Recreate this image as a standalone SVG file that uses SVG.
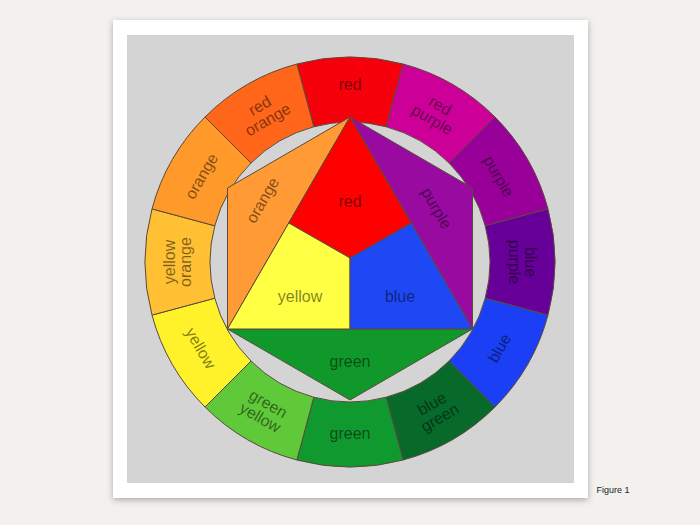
<svg xmlns="http://www.w3.org/2000/svg" width="700" height="525" viewBox="0 0 700 525">
<defs>
<filter id="sh" x="-10%" y="-10%" width="120%" height="120%"><feDropShadow dx="0" dy="2" stdDeviation="3" flood-opacity="0.3"/></filter>
<style>
.s{stroke:#5a4a3a;stroke-width:1;stroke-linejoin:round}
text{font-family:"Liberation Sans",Arial,sans-serif;font-size:16px;fill:#000;fill-opacity:0.5;text-anchor:middle}
</style>
</defs>
<rect width="700" height="525" fill="#f3f1ee"/>
<rect x="113" y="20" width="475" height="478" fill="#fff" filter="url(#sh)"/>
<rect x="127" y="35" width="447" height="448" fill="#d4d4d4"/>
<g id="ring">
<path class="s" fill="#f6000c" d="M296.9,64 A205,205 0 0 1 403.1,64 L386.2,126.8 A140,140 0 0 0 313.8,126.8Z"/>
<path class="s" fill="#cc0099" d="M403.1,64 A205,205 0 0 1 495,117 L449,163 A140,140 0 0 0 386.2,126.8Z"/>
<path class="s" fill="#990099" d="M495,117 A205,205 0 0 1 548,208.9 L485.2,225.8 A140,140 0 0 0 449,163Z"/>
<path class="s" fill="#660099" d="M548,208.9 A205,205 0 0 1 548,315.1 L485.2,298.2 A140,140 0 0 0 485.2,225.8Z"/>
<path class="s" fill="#1a3ff5" d="M548,315.1 A205,205 0 0 1 495,407 L449,361 A140,140 0 0 0 485.2,298.2Z"/>
<path class="s" fill="#076a2a" d="M495,407 A205,205 0 0 1 403.1,460 L386.2,397.2 A140,140 0 0 0 449,361Z"/>
<path class="s" fill="#10992f" d="M403.1,460 A205,205 0 0 1 296.9,460 L313.8,397.2 A140,140 0 0 0 386.2,397.2Z"/>
<path class="s" fill="#5fc93a" d="M296.9,460 A205,205 0 0 1 205,407 L251,361 A140,140 0 0 0 313.8,397.2Z"/>
<path class="s" fill="#fff22a" d="M205,407 A205,205 0 0 1 152,315.1 L214.8,298.2 A140,140 0 0 0 251,361Z"/>
<path class="s" fill="#ffc033" d="M152,315.1 A205,205 0 0 1 152,208.9 L214.8,225.8 A140,140 0 0 0 214.8,298.2Z"/>
<path class="s" fill="#ff9a2a" d="M152,208.9 A205,205 0 0 1 205,117 L251,163 A140,140 0 0 0 214.8,225.8Z"/>
<path class="s" fill="#ff661a" d="M205,117 A205,205 0 0 1 296.9,64 L313.8,126.8 A140,140 0 0 0 251,163Z"/>
</g>
<g id="hexagon">
<path class="s" fill="#ff9a35" d="M350,117 L227.5,188 L227.5,329 Z"/>
<path class="s" fill="#990aa0" d="M350,117 L472.5,188 L472.5,329 Z"/>
<path class="s" fill="#10992a" d="M227.5,329 L472.5,329 L350,400 Z"/>
<path class="s" fill="#fe0000" d="M350,117 L411.25,223 L350,258 L288.75,223 Z"/>
<path class="s" fill="#ffff44" d="M288.75,223 L350,258 L350,329 L227.5,329 Z"/>
<path class="s" fill="#1f48f5" d="M411.25,223 L472.5,329 L350,329 L350,258 Z"/>
</g>
<g id="labels">
<text x="350" y="90">red</text>
<g transform="translate(436,113) rotate(30)"><text y="-3">red</text><text y="13">purple</text></g>
<g transform="translate(499,176) rotate(60)"><text y="6">purple</text></g>
<g transform="translate(522,262) rotate(90)"><text y="-3">blue</text><text y="13">purple</text></g>
<g transform="translate(499,348) rotate(-60)"><text y="6">blue</text></g>
<g transform="translate(436,411) rotate(-30)"><text y="-3">blue</text><text y="13">green</text></g>
<text x="350" y="439">green</text>
<g transform="translate(264,411) rotate(30)"><text y="-3">green</text><text y="13">yellow</text></g>
<g transform="translate(201,348) rotate(60)"><text y="6">yellow</text></g>
<g transform="translate(178,262) rotate(-90)"><text y="-3">yellow</text><text y="13">orange</text></g>
<g transform="translate(201,176) rotate(-60)"><text y="6">orange</text></g>
<g transform="translate(264,113) rotate(-30)"><text y="-3">red</text><text y="13">orange</text></g>
<text x="350" y="207">red</text>
<g transform="translate(262,200) rotate(-60)"><text y="6">orange</text></g>
<g transform="translate(437,208) rotate(60)"><text y="6">purple</text></g>
<text x="300" y="302">yellow</text>
<text x="400" y="302">blue</text>
<text x="350" y="367">green</text>
</g>
<text x="613" y="493" style="font-size:9px;fill-opacity:1;fill:#222">Figure 1</text>
</svg>
